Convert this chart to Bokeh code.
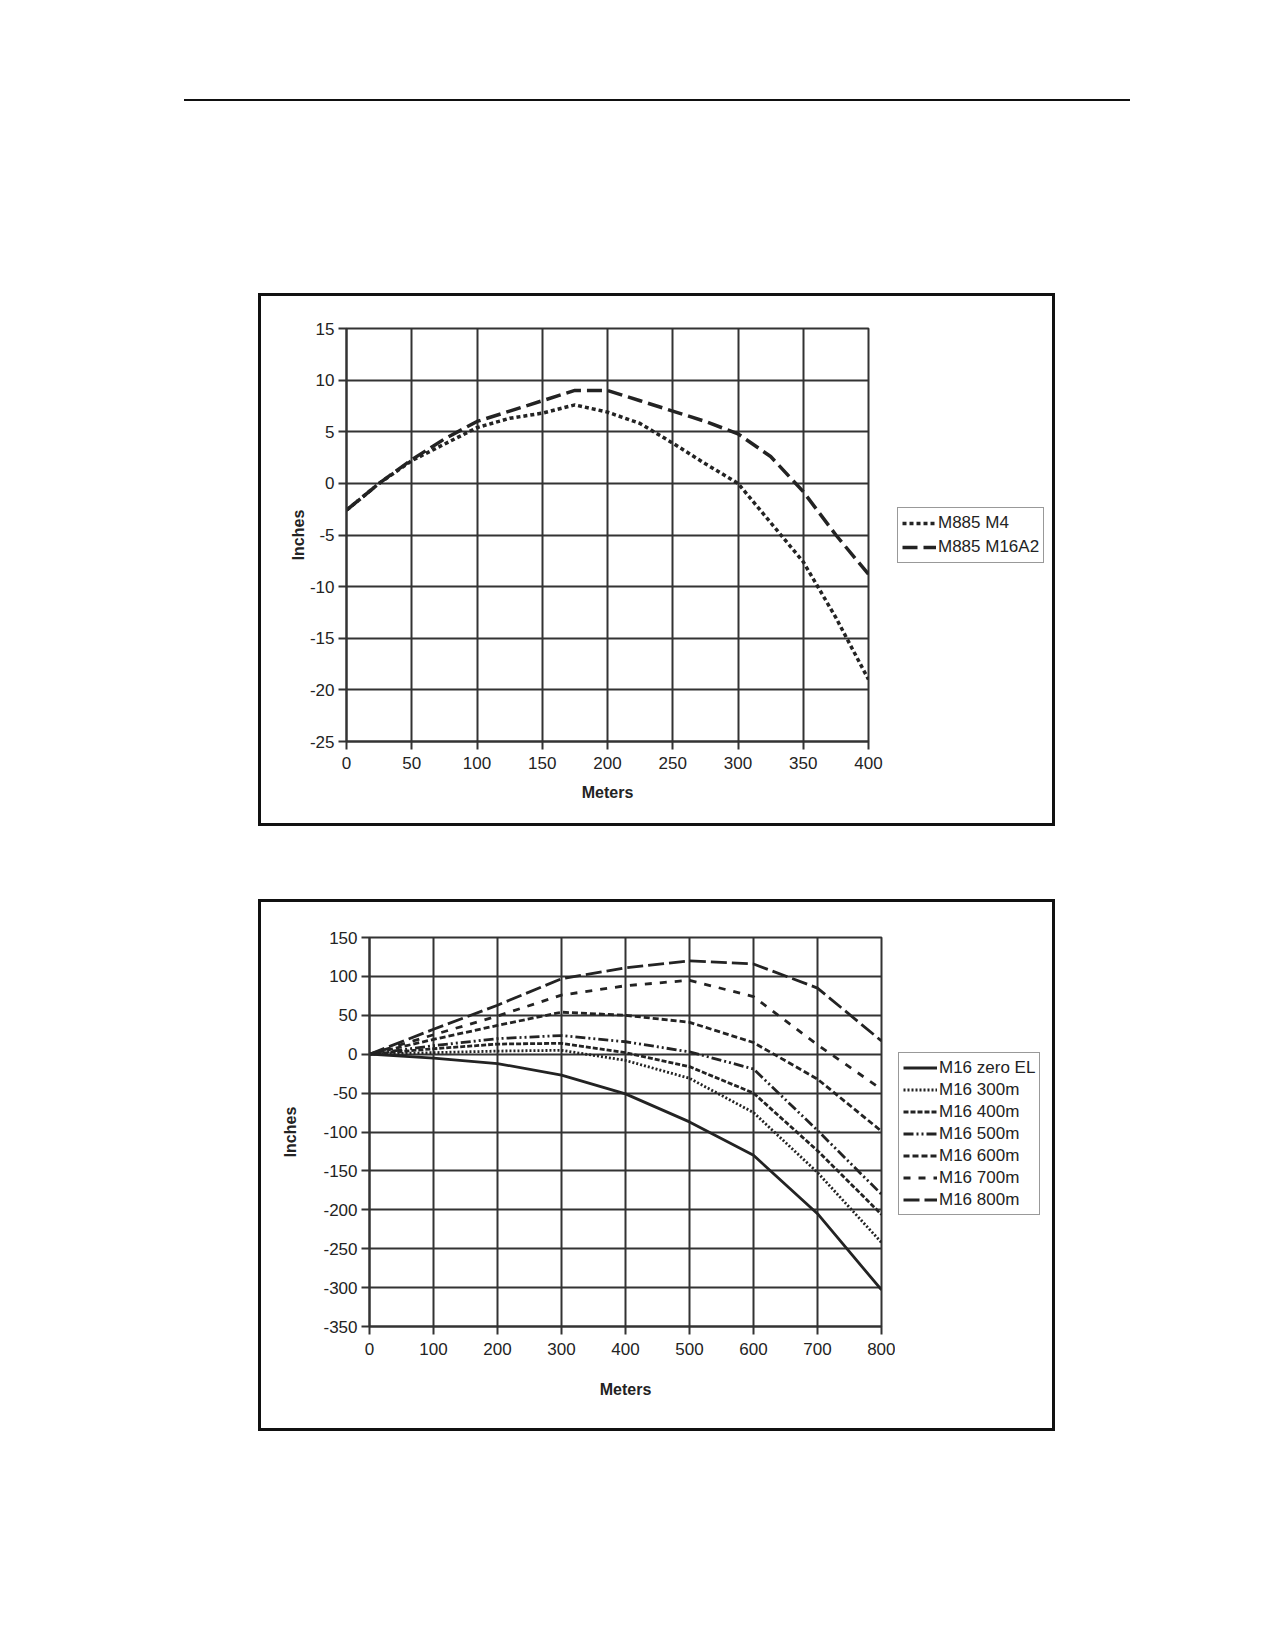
from bokeh.plotting import figure
from bokeh.models import Range1d, Legend, LegendItem, Div, Spacer, FixedTicker
from bokeh.layouts import column, row
from bokeh.embed import file_html
from bokeh.resources import INLINE

# ---------------- data: top chart ----------------
top_meters = [0, 25, 50, 75, 100, 125, 150, 175, 200, 225, 250, 275, 300, 325, 350, 375, 400]
m885_m4 = [-2.6, 0.0, 2.2, 3.8, 5.4, 6.3, 6.8, 7.6, 6.9, 5.8, 3.9, 1.9, 0.0, -3.8, -7.6, -13.0, -19.0]
m885_m16a2 = [-2.6, 0.0, 2.3, 4.3, 6.0, 7.0, 8.0, 9.0, 9.0, 8.0, 7.0, 6.0, 4.8, 2.6, -0.8, -5.0, -8.8]
top_xticks = [0, 50, 100, 150, 200, 250, 300, 350, 400]
top_yticks = [-25, -20, -15, -10, -5, 0, 5, 10, 15]
top_names = ["M885 M4", "M885 M16A2"]

# ---------------- data: bottom chart ----------------
bot_meters = [0, 100, 200, 300, 400, 500, 600, 700, 800]
m16_zero = [0, -5, -12, -27, -51, -87, -130, -205, -303]
m16_300 = [0, 2, 4, 5, -8, -31, -75, -152, -242]
m16_400 = [0, 7, 13, 14, 2, -16, -50, -124, -206]
m16_500 = [0, 11, 20, 24, 16, 3, -19, -98, -180]
m16_600 = [0, 19, 37, 54, 50, 41, 15, -32, -99]
m16_700 = [0, 25, 49, 76, 88, 95, 74, 12, -45]
m16_800 = [0, 32, 63, 97, 111, 120, 116, 85, 17]
bot_xticks = [0, 100, 200, 300, 400, 500, 600, 700, 800]
bot_yticks = [-350, -300, -250, -200, -150, -100, -50, 0, 50, 100, 150]
bot_names = ["M16 zero EL", "M16 300m", "M16 400m", "M16 500m", "M16 600m", "M16 700m", "M16 800m"]

FONT = "Liberation Sans"
INK = "#232323"
GRID = "#333333"
B = "3px solid #111"


def style(p, xticks, yticks, xstand, xlab_stand, ystand, ylab_stand):
    p.background_fill_color = "white"
    p.border_fill_color = "white"
    p.outline_line_color = GRID
    p.outline_line_width = 2
    for g in (p.xgrid, p.ygrid):
        g.grid_line_color = GRID
        g.grid_line_width = 2
        g.grid_line_alpha = 1
    p.xaxis.ticker = FixedTicker(ticks=xticks)
    p.yaxis.ticker = FixedTicker(ticks=yticks)
    p.xaxis.major_label_overrides = {t: str(t) for t in xticks}
    p.yaxis.major_label_overrides = {t: str(t) for t in yticks}
    for ax in (p.xaxis, p.yaxis):
        ax.axis_line_color = GRID
        ax.axis_line_width = 2
        ax.major_tick_line_color = GRID
        ax.major_tick_line_width = 2
        ax.major_tick_out = 8
        ax.major_tick_in = 0
        ax.minor_tick_line_color = None
        ax.major_label_text_font = FONT
        ax.major_label_text_font_size = "17px"
        ax.major_label_text_color = INK
        ax.axis_label_text_font = FONT
        ax.axis_label_text_font_size = "16px"
        ax.axis_label_text_font_style = "bold"
        ax.axis_label_text_color = INK
    p.xaxis.major_label_standoff = xstand
    p.xaxis.axis_label_standoff = xlab_stand
    p.yaxis.major_label_standoff = ystand
    p.yaxis.axis_label_standoff = ylab_stand


def legend_fig(width, height, names, specs, x0, y0s, loc, item_h, item_gap):
    # separate panel that holds the legend (legend proxies are single points -> no visible mark)
    q = figure(width=width, height=height, output_backend="svg", toolbar_location=None,
               x_range=Range1d(1, 2), y_range=Range1d(1, 2),
               x_axis_type=None, y_axis_type=None,
               min_border=0, min_border_left=0, min_border_right=0,
               min_border_top=0, min_border_bottom=0,
               styles={"border-top": B, "border-right": B, "border-bottom": B,
                       "box-sizing": "border-box"})
    q.outline_line_color = None
    q.background_fill_color = "white"
    q.border_fill_color = "white"
    q.grid.visible = False
    items = []
    for name, (w, dash), y0 in zip(names, specs, y0s):
        r = q.line([x0], [y0], line_color=INK, line_width=w, line_dash=dash)
        items.append(LegendItem(label=name, renderers=[r]))
    lg = Legend(items=items, location=loc)
    lg.border_line_color = GRID
    lg.border_line_width = 1.5
    lg.background_fill_color = "white"
    lg.padding = 4
    lg.spacing = item_gap
    lg.margin = 0
    lg.label_height = item_h
    lg.glyph_height = item_h
    lg.glyph_width = 34
    lg.label_standoff = 2
    lg.label_text_font = FONT
    lg.label_text_font_size = "17px"
    lg.label_text_color = INK
    q.add_layout(lg)
    return q


LEFT_BOX = {"border-top": B, "border-left": B, "border-bottom": B, "box-sizing": "border-box"}

# ---------------- top chart ----------------
top_specs = [(3.5, "4 3"), (3.5, "15 6")]
p1 = figure(width=632, height=533, output_backend="svg", toolbar_location=None,
            x_range=Range1d(0, 400), y_range=Range1d(-25, 15),
            x_axis_label="Meters", y_axis_label="Inches",
            min_border_left=85, min_border_right=25, min_border_top=32, min_border_bottom=88,
            styles=LEFT_BOX)
style(p1, top_xticks, top_yticks, 7, 12, 4, 0)
p1.line(top_meters, m885_m4, line_color=INK, line_width=top_specs[0][0], line_dash=top_specs[0][1])
p1.line(top_meters, m885_m16a2, line_color=INK, line_width=top_specs[1][0], line_dash=top_specs[1][1])
leg1 = legend_fig(165, 533, top_names, top_specs, top_meters[0],
                  [m885_m4[0], m885_m16a2[0]], (7, 178), 22, 2)

# ---------------- bottom chart ----------------
bot_specs = [(2.8, "solid"), (2.8, "2 2"), (2.8, "5 2"), (2.8, "10 3 2 3 2 3"),
             (2.8, "6 3"), (2.8, "7 8"), (2.8, "16 5")]
bot_series = [m16_zero, m16_300, m16_400, m16_500, m16_600, m16_700, m16_800]
p2 = figure(width=637, height=532, output_backend="svg", toolbar_location=None,
            x_range=Range1d(0, 800), y_range=Range1d(-350, 150),
            x_axis_label="Meters", y_axis_label="Inches",
            min_border_left=108, min_border_right=17, min_border_top=35, min_border_bottom=108,
            styles=LEFT_BOX)
style(p2, bot_xticks, bot_yticks, 8, 23, 4, 21)
for vals, (w, dash) in zip(bot_series, bot_specs):
    p2.line(bot_meters, vals, line_color=INK, line_width=w, line_dash=dash)
leg2 = legend_fig(160, 532, bot_names, bot_specs, bot_meters[0],
                  [s[0] for s in bot_series], (3, 111), 21, 1)

rule = Div(text="", width=946, height=2, styles={"background-color": "#111"})

page = column(
    Spacer(height=94),
    row(Spacer(width=179), rule),
    Spacer(height=187),
    row(Spacer(width=258), p1, leg1),
    Spacer(height=73),
    row(Spacer(width=258), p2, leg2),
)

open("out.html", "w").write(file_html(page, INLINE))
